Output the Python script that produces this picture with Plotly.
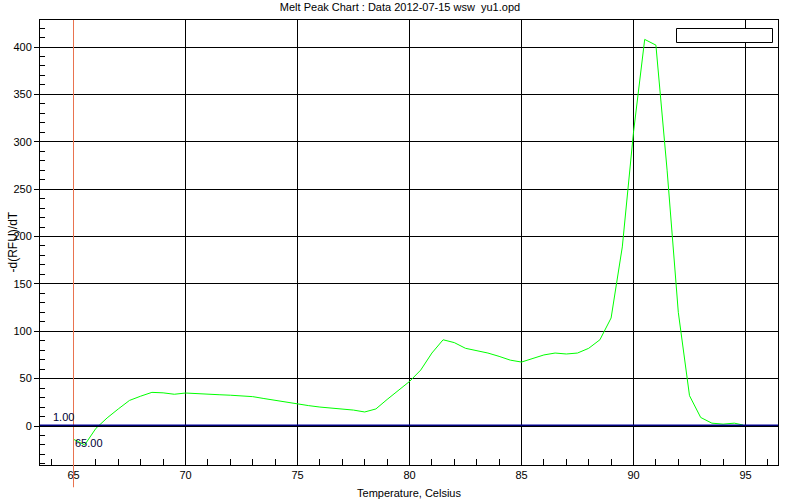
import plotly.graph_objects as go

# Melt peak data (temperature in Celsius, -d(RFU)/dT)
temps = [65.0, 65.5, 66.0, 66.5, 67.0, 67.5, 68.0, 68.5, 69.0, 69.5,
         70.0, 70.5, 71.0, 71.5, 72.0, 72.5, 73.0, 73.5, 74.0, 74.5,
         75.0, 75.5, 76.0, 76.5, 77.0, 77.5, 78.0, 78.5, 79.0, 79.5,
         80.0, 80.5, 81.0, 81.5, 82.0, 82.5, 83.0, 83.5, 84.0, 84.5,
         85.0, 85.5, 86.0, 86.5, 87.0, 87.5, 88.0, 88.5, 89.0, 89.5,
         90.0, 90.5, 91.0, 91.5, 92.0, 92.5, 93.0, 93.5, 94.0, 94.5,
         94.9]
values = [-14, -20, -2.5, 8.5, 18, 27, 31.5, 35.5, 35, 33.5,
          34.8, 34, 33.8, 33, 32.5, 32, 31, 29, 27, 25,
          23.2, 21.5, 20, 19, 17.8, 16.8, 14.8, 18, 28, 38,
          47, 59, 77, 91, 88, 82, 79.5, 77, 73.5, 69.5,
          67.5, 71.5, 75, 77, 76, 77, 82, 91, 114, 189,
          310, 408, 402, 270, 120, 32, 9, 3, 2, 3,
          1]

x_ticks = [65, 70, 75, 80, 85, 90, 95]
y_ticks = [0, 50, 100, 150, 200, 250, 300, 350, 400]
threshold = 1.00
start_temp = 65.00

title = "Melt Peak Chart : Data 2012-07-15 wsw  yu1.opd"
FONT = "Liberation Sans, Arial, sans-serif"

fig = go.Figure()
fig.add_trace(go.Scatter(x=temps, y=values, mode="lines",
                         line=dict(color="#00FF00", width=1),
                         showlegend=False, hoverinfo="x+y"))

fig.update_layout(
    width=800, height=500,
    margin=dict(l=40, r=22, t=20, b=35, autoexpand=False),
    paper_bgcolor="white", plot_bgcolor="white",
    font=dict(family=FONT, size=11, color="#000"),
    title=dict(text=title, x=0.5, xref="container", y=1 - 7 / 500, yref="container",
               xanchor="center", yanchor="middle",
               font=dict(family=FONT, size=11, color="#000")),
    showlegend=False,
    xaxis=dict(range=[63.50446, 96.45089], tickvals=x_ticks,
               ticktext=[str(v) for v in x_ticks], automargin=False,
               showgrid=True, gridcolor="black", gridwidth=1,
               zeroline=False, showline=True, linecolor="black", linewidth=1,
               mirror=True, ticks="inside", ticklen=6, tickcolor="black",
               minor=dict(dtick=1, tick0=65, ticks="inside", ticklen=6,
                          tickcolor="black", showgrid=False),
               title=dict(text="Temperature, Celsius", standoff=9,
                          font=dict(size=11))),
    yaxis=dict(range=[-41.16, 428.5], tickvals=y_ticks,
               ticktext=[str(v) for v in y_ticks], automargin=False,
               showgrid=True, gridcolor="black", gridwidth=1,
               zeroline=False, showline=True, linecolor="black", linewidth=1,
               mirror=True, ticks="outside", ticklen=5, tickcolor="black",
               minor=dict(dtick=10, tick0=0, ticks="inside", ticklen=5,
                          tickcolor="black", showgrid=False)),
)

# y-axis title as rotated annotation
fig.add_annotation(x=(12 - 40) / 738, y=0.5, xref="paper", yref="paper",
                   text="-d(RFU)/dT", textangle=-90, showarrow=False,
                   xanchor="center", yanchor="middle",
                   font=dict(family=FONT, size=12, color="#000"))

# start temperature marker (orange vertical), over a white underlay hiding the grid line
fig.add_shape(type="line", xref="x", yref="paper", x0=start_temp, x1=start_temp,
              y0=0.002, y1=0.998, line=dict(color="white", width=3), layer="below")
fig.add_shape(type="line", xref="x", yref="paper", x0=start_temp, x1=start_temp,
              y0=-0.05, y1=1, line=dict(color="#E9734F", width=1), layer="above")

# zero line (black) and threshold line (blue)
fig.add_shape(type="line", xref="paper", yref="y", x0=0, x1=1, y0=0, y1=0,
              line=dict(color="black", width=2), layer="above")
fig.add_shape(type="line", xref="paper", yref="y", x0=0, x1=1,
              y0=threshold, y1=threshold,
              line=dict(color="#0000A0", width=1.2), layer="above")

# empty legend box
fig.add_shape(type="rect", xref="paper", yref="paper",
              x0=(676.5 - 40) / 738, x1=(772.5 - 40) / 738,
              y0=1 - (42.5 - 20) / 445, y1=1 - (28.5 - 20) / 445,
              fillcolor="white", line=dict(color="black", width=1), layer="above")

fig.add_annotation(x=start_temp, y=threshold, xref="x", yref="y",
                   text=f"{threshold:.2f}", showarrow=False,
                   xanchor="right", yanchor="bottom", xshift=2, yshift=0,
                   font=dict(family=FONT, size=11, color="#000033"))
fig.add_annotation(x=start_temp, y=0, xref="x", yref="y",
                   text=f"{start_temp:.2f}", showarrow=False,
                   xanchor="left", yanchor="top", xshift=-1, yshift=-9,
                   font=dict(family=FONT, size=11, color="#000033"))

fig.write_html("out.html", config={"displayModeBar": False},
               post_script="document.body.style.margin='0';document.body.style.padding='0';")
